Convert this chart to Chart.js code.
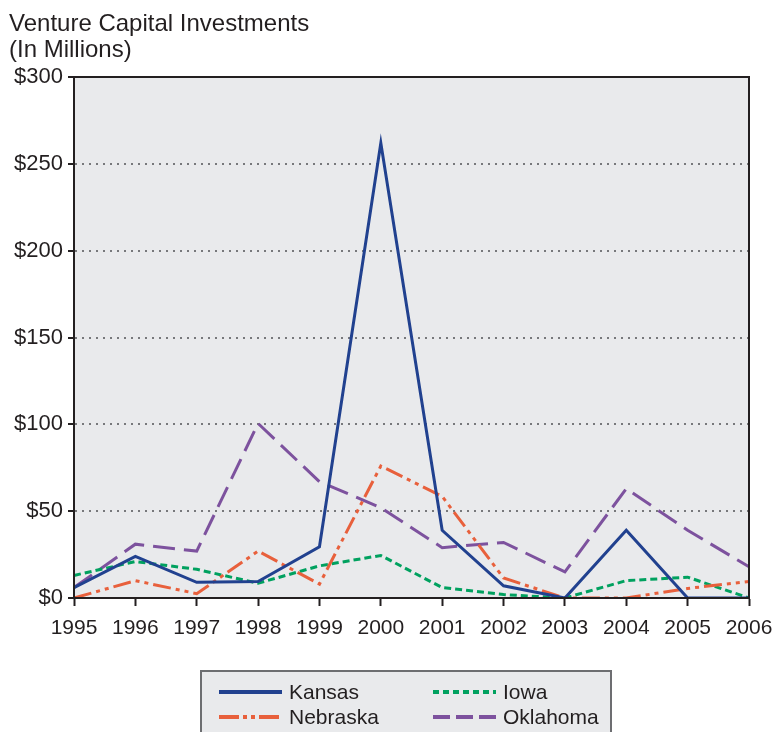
<!DOCTYPE html>
<html>
<head>
<meta charset="utf-8">
<script src="https://cdn.jsdelivr.net/npm/chart.js@4.4.1/dist/chart.umd.min.js"></script>
<style>
    html, body { margin: 0; padding: 0; background: #fff; }
    #wrap { width: 772px; height: 732px; }
</style>
</head>
<body>
<div id="wrap"><canvas id="vcChart" width="772" height="732"></canvas></div>
<script>
const years = ['1995', '1996', '1997', '1998', '1999', '2000', '2001', '2002', '2003', '2004', '2005', '2006'];
const kansas = [6, 24, 9, 9.5, 29.5, 262, 39, 7, 0, 39, 0, 0];
const nebraska = [0, 10, 2.5, 27, 8, 76, 58.5, 11.5, 0, 0, 5.5, 9.5];
const iowa = [13, 21, 16.5, 8.5, 18.5, 24.5, 6, 2, 0, 10, 12, 0];
const oklahoma = [6, 31, 27, 100.5, 67, 52, 29, 32, 15, 63, 39, 18];
const titleLines = ['Venture Capital Investments', '(In Millions)'];

const baseFont = "'Liberation Sans', Arial, Helvetica, sans-serif";

// plot background, frame, title and boxed legend
const decorPlugin = {
    id: 'decor',
    beforeDraw(chart) {
        const { ctx, chartArea: a } = chart;
        ctx.save();
        ctx.fillStyle = '#e9eaec';
        ctx.fillRect(a.left, a.top, a.right - a.left, a.bottom - a.top);

        ctx.fillStyle = '#231f20';
        ctx.font = '24px ' + baseFont;
        ctx.textAlign = 'left';
        ctx.textBaseline = 'alphabetic';
        ctx.fillText(titleLines[0], 9, 31);
        ctx.fillText(titleLines[1], 9, 57);
        ctx.restore();
    },
    afterDraw(chart) {
        const { ctx, chartArea: a } = chart;
        ctx.save();
        ctx.strokeStyle = '#231f20';
        ctx.lineWidth = 2;
        ctx.strokeRect(a.left, a.top, a.right - a.left, a.bottom - a.top);

        // legend box
        ctx.fillStyle = '#e9eaec';
        ctx.fillRect(201, 671, 410, 70);
        ctx.strokeStyle = '#6d6e71';
        ctx.lineWidth = 2;
        ctx.strokeRect(201, 671, 410, 70);

        const spots = [[219, 692], [433, 692], [219, 717], [433, 717]];
        const order = [0, 2, 1, 3];
        const sampleDash = [[], [20, 4, 4, 4, 4, 4], [6, 4], [17, 6]];
        ctx.font = '21px ' + baseFont;
        ctx.textBaseline = 'middle';
        order.forEach((di, k) => {
            const ds = chart.data.datasets[di];
            const [x, y] = spots[k];
            ctx.strokeStyle = ds.borderColor;
            ctx.lineWidth = 4;
            ctx.setLineDash(sampleDash[di]);
            ctx.beginPath();
            ctx.moveTo(x, y);
            ctx.lineTo(x + 63, y);
            ctx.stroke();
            ctx.setLineDash([]);
            ctx.fillStyle = '#231f20';
            ctx.fillText(ds.label, x + 70, y + 1);
        });
        ctx.restore();
    }
};

new Chart(document.getElementById('vcChart'), {
    type: 'line',
    data: {
        labels: years,
        datasets: [{
            label: 'Kansas',
            data: kansas,
            borderColor: '#21418f',
            borderWidth: 3,
            pointRadius: 0
        }, {
            label: 'Nebraska',
            data: nebraska,
            borderColor: '#e8603c',
            borderWidth: 3,
            borderDash: [18, 5, 4, 5, 4, 5],
            pointRadius: 0
        }, {
            label: 'Iowa',
            data: iowa,
            borderColor: '#00a15f',
            borderWidth: 3,
            borderDash: [7, 4],
            pointRadius: 0
        }, {
            label: 'Oklahoma',
            data: oklahoma,
            borderColor: '#7d529e',
            borderWidth: 3,
            borderDash: [22, 9],
            pointRadius: 0
        }]
    },
    options: {
        responsive: false,
        animation: false,
        layout: { padding: { top: 77, right: 23, bottom: 94, left: 0 } },
        plugins: {
            legend: { display: false },
            title: { display: false },
            tooltip: { enabled: false }
        },
        scales: {
            x: {
                offset: false,
                afterFit: s => { s.height = 40; s.paddingLeft = 0; s.paddingRight = 0; },
                grid: {
                    drawOnChartArea: false,
                    drawTicks: true,
                    tickLength: 8,
                    tickColor: '#231f20',
                    tickWidth: 2
                },
                border: { color: '#231f20', width: 2 },
                ticks: {
                    color: '#231f20',
                    font: { family: baseFont, size: 21 },
                    padding: 10,
                    maxRotation: 0,
                    autoSkip: false
                }
            },
            y: {
                min: 0,
                max: 300,
                afterFit: s => { s.width = 74; },
                grid: {
                    color: c => (c.tick.value > 0 && c.tick.value < 300) ? '#77787b' : 'rgba(0,0,0,0)',
                    lineWidth: 2,
                    drawTicks: true,
                    tickLength: 6,
                    tickColor: '#231f20',
                    tickWidth: 2
                },
                border: { color: '#231f20', width: 2, dash: [2, 5] },
                ticks: {
                    stepSize: 50,
                    color: '#231f20',
                    font: { family: baseFont, size: 22 },
                    padding: 5,
                    callback: v => '$' + v
                }
            }
        }
    },
    plugins: [decorPlugin]
});
</script>
</body>
</html>
